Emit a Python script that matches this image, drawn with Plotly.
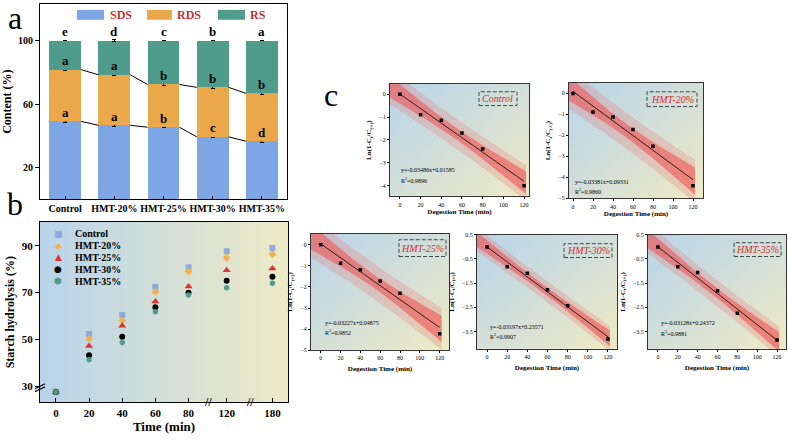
import numpy as np
import plotly.graph_objects as go

W, H = 789, 441
SERIF = 'Liberation Serif'


def px(x):
    return x / W


def py(y):
    return 1 - y / H


#####
#  Data
#####

#  (a) starch fractions, % of total
samples = ['Control', 'HMT-20%', 'HMT-25%', 'HMT-30%', 'HMT-35%']
sds = [49.1, 46.6, 45.4, 39.3, 36.6]
rds = [32.6, 31.8, 26.9, 31.2, 30.1]
rs = [18.3, 21.6, 27.7, 29.5, 33.3]
sds_err = [0.6, 0.7, 0.5, 0.6, 0.9]
rds_err = [0.6, 0.7, 0.5, 0.6, 0.7]
rs_err = [0.3, 0.4, 0.3, 0.3, 0.3]
sds_sig = ['a', 'a', 'b', 'c', 'd']
rds_sig = ['a', 'a', 'b', 'b', 'b']
rs_sig = ['e', 'd', 'c', 'b', 'a']

#  (b) starch hydrolysis curves
times = [0, 20, 40, 60, 80, 120, 180]
hyd_control = [27.7, 52.4, 60.5, 72.4, 80.8, 87.6, 89.0]
hyd_hmt20 = [27.7, 50.3, 58.1, 70.3, 79.0, 84.9, 86.3]
hyd_hmt25 = [27.7, 47.3, 55.9, 66.2, 72.6, 79.5, 80.3]
hyd_hmt30 = [27.7, 43.3, 51.2, 63.8, 70.0, 75.1, 76.8]
hyd_hmt35 = [27.7, 41.4, 48.8, 61.9, 69.0, 72.1, 74.0]

#  (c) first-order kinetics, Ln(1-Ct/Cinf)
dig_time = [0, 20, 40, 60, 80, 120]
ln_control = [0.0, -0.89, -1.14, -1.69, -2.39, -4.01]
ln_hmt20 = [0.0, -0.89, -1.13, -1.72, -2.52, -4.40]
ln_hmt25 = [0.0, -0.88, -1.18, -1.72, -2.30, -4.22]
ln_hmt30 = [0.0, -0.82, -1.09, -1.77, -2.43, -3.81]
ln_hmt35 = [0.0, -0.82, -1.06, -1.81, -2.74, -3.85]
fit_eq = ['y=-0.03486x+0.01585', 'y=-0.03381x+0.09331', 'y=-0.03227x+0.04875',
          'y=-0.03197x+0.23571', 'y=-0.03128x+0.24372']
fit_r2 = ['0.9896', '0.9860', '0.9852', '0.9907', '0.9881']

#####
#  Styling
#####

C_SDS, C_RDS, C_RS = '#7ea5e4', '#eaa84a', '#4f9b8c'
LEG_RED = '#c0322f'
BG_SCALE = [[0, '#b8d4ea'], [1, '#eeeac6']]
series_style = [
    ('Control', hyd_control, 'square', '#8eaadc', '■'),
    ('HMT-20%', hyd_hmt20, 'diamond', '#f2b04e', '◆'),
    ('HMT-25%', hyd_hmt25, 'triangle-up', '#e0312f', '▲'),
    ('HMT-30%', hyd_hmt30, 'circle', '#000000', '●'),
    ('HMT-35%', hyd_hmt35, 'hexagon', '#4f9b8f', '⬢'),
]
#  broken time axis: where each time sits on the drawn axis
BREAK_POS = {0: 0, 20: 1, 40: 2, 60: 3, 80: 4, 120: 5.15, 180: 6.53}

fig = go.Figure()
annotations = []
shapes = []


def axis_style(**kw):
    base = dict(showline=True, mirror=True, linecolor='black', linewidth=1.2,
                showgrid=False, zeroline=False, ticks='outside', ticklen=4,
                tickcolor='black', tickfont=dict(family=SERIF, size=10, color='black'))
    base.update(kw)
    return base


#####
#  Panel a
#####

w_bar = 0.645
pos_a = list(range(len(samples)))
for vals, err, col in [(sds, sds_err, C_SDS), (rds, rds_err, C_RDS), (rs, rs_err, C_RS)]:
    fig.add_trace(go.Bar(x=pos_a, y=vals, width=w_bar, marker=dict(color=col, line_width=0),
                         error_y=dict(type='data', array=err, color='black', thickness=1, width=2),
                         xaxis='x', yaxis='y', showlegend=False, hoverinfo='skip'))

top_sds = sds
top_rds = [a + b for a, b in zip(sds, rds)]
top_rs = [a + b + c for a, b, c in zip(sds, rds, rs)]
for tops in [top_sds, top_rds]:
    xs, ys = [], []
    for i in range(len(tops) - 1):
        xs += [i + w_bar / 2, i + 1 - w_bar / 2, None]
        ys += [tops[i], tops[i + 1], None]
    fig.add_trace(go.Scatter(x=xs, y=ys, mode='lines', line=dict(color='black', width=1),
                             xaxis='x', yaxis='y', showlegend=False, hoverinfo='skip'))

for tops, sig in [(top_sds, sds_sig), (top_rds, rds_sig), (top_rs, rs_sig)]:
    for i, s in enumerate(sig):
        annotations.append(dict(x=i, y=tops[i], xref='x', yref='y', text='<b>%s</b>' % s,
                                showarrow=False, yanchor='middle', yshift=9,
                                font=dict(family=SERIF, size=13, color='black')))

#  legend of panel a
for name, col, x0, x1, xt in [('SDS', C_SDS, 77, 104, 108), ('RDS', C_RDS, 147, 172, 175),
                              ('RS', C_RS, 218, 245, 248)]:
    shapes.append(dict(type='rect', xref='paper', yref='paper', x0=px(x0), x1=px(x1),
                       y0=py(17), y1=py(7), fillcolor=col, line_width=0))
    annotations.append(dict(x=px(xt), y=py(12), xref='paper', yref='paper', text='<b>%s</b>' % name,
                            showarrow=False, xanchor='left', yanchor='middle',
                            font=dict(family=SERIF, size=12, color=LEG_RED)))

#####
#  Panel b
#####

fig.add_trace(go.Heatmap(x=[-0.48, 7.0], y=[23.2, 100.1], z=[[0, 1], [0, 1]], zsmooth='best',
                         colorscale=BG_SCALE, showscale=False, hoverinfo='skip',
                         xaxis='x2', yaxis='y2'))
for name, vals, sym, col, glyph in series_style:
    fig.add_trace(go.Scatter(x=[BREAK_POS[t] for t in times], y=vals, mode='markers', name=name,
                             marker=dict(symbol=sym, color=col, size=6 if sym != 'triangle-up' else 7),
                             xaxis='x2', yaxis='y2', showlegend=False))

for k, (name, vals, sym, col, glyph) in enumerate(series_style):
    yy = 234 + 12 * k
    annotations.append(dict(x=px(58), y=py(yy), xref='paper', yref='paper', text=glyph,
                            showarrow=False, xanchor='center', yanchor='middle',
                            font=dict(family='DejaVu Sans', size=9, color=col)))
    annotations.append(dict(x=px(73), y=py(yy), xref='paper', yref='paper', text='<b>%s</b>' % name,
                            showarrow=False, xanchor='left', yanchor='middle',
                            font=dict(family=SERIF, size=10, color='black')))

#  axis break marks
for xb in [(BREAK_POS[80] + BREAK_POS[120]) / 2, (BREAK_POS[120] + BREAK_POS[180]) / 2]:
    annotations.append(dict(x=xb, y=py(404), xref='x2', yref='paper', text='<b>//</b>',
                            showarrow=False, xanchor='center', yanchor='middle',
                            font=dict(family=SERIF, size=12, color='black')))
for dy in [0, 3]:
    shapes.append(dict(type='line', xref='paper', yref='paper', x0=px(35), x1=px(45),
                       y0=py(391 + dy), y1=py(386 + dy), line=dict(color='black', width=1.2)))

#####
#  Panel c
#####

c_data = [ln_control, ln_hmt20, ln_hmt25, ln_hmt30, ln_hmt35]
#  plot box (px), axis ranges, y ticks, label box (px), equation anchor (px)
c_layout = [
    dict(xd=(390, 529), yd=(82, 196), xr=(-9.6, 124.8), yr=(-4.47, 0.46), yt=[0, -1, -2, -3, -4],
         box=(479, 517, 90, 104), eq=(399, 169, 179), so=2),
    dict(xd=(569, 703), yd=(81, 198), xr=(-4.0, 130.0), yr=(-5.0, 0.5), yt=[0, -1, -2, -3, -4, -5],
         box=(647, 697, 90, 105), eq=(573, 181, 191), so=2),
    dict(xd=(311, 449), yd=(234, 352), xr=(-9.8, 129.4), yr=(-5.0, 0.52), yt=[0, -1, -2, -3, -4, -5],
         box=(399, 446, 240, 257), eq=(323, 324, 334), so=5),
    dict(xd=(477, 617), yd=(235, 351), xr=(-10, 129), yr=(-4.23, 0.5), yt=[0.5, -0.5, -1.5, -2.5, -3.5],
         box=(564, 612, 244, 258), eq=(488, 328, 338), so=5),
    dict(xd=(648, 786), yd=(235, 351), xr=(-10, 129), yr=(-4.23, 0.5), yt=[0.5, -0.5, -1.5, -2.5, -3.5],
         box=(734, 781, 243, 257), eq=(659, 324, 335), so=5),
]

T95 = 2.776  # t(0.975, df=4)
x_arr = np.array(dig_time, dtype=float)
n = len(x_arr)
for k, (yvals, cl) in enumerate(zip(c_data, c_layout)):
    ax = str(k + 3)
    xa, ya = 'x' + ax, 'y' + ax
    y_arr = np.array(yvals)
    slope, icpt = np.polyfit(x_arr, y_arr, 1)
    resid = y_arr - (slope * x_arr + icpt)
    s = np.sqrt(np.sum(resid ** 2) / (n - 2))
    sxx = np.sum((x_arr - x_arr.mean()) ** 2)
    xb = np.linspace(cl['xr'][0] - 2, 122, 80)
    yb = slope * xb + icpt
    ci = T95 * s * np.sqrt(1 / n + (xb - x_arr.mean()) ** 2 / sxx)
    pi = T95 * s * np.sqrt(1 + 1 / n + (xb - x_arr.mean()) ** 2 / sxx)

    fig.add_trace(go.Heatmap(x=list(cl['xr']), y=list(cl['yr']), z=[[0.5, 1], [0, 0.5]], zsmooth='best',
                             colorscale=BG_SCALE, showscale=False, hoverinfo='skip', xaxis=xa, yaxis=ya))
    for half, col in [(pi, 'rgba(232,120,120,0.28)'), (ci, 'rgba(238,88,88,0.62)')]:
        fig.add_trace(go.Scatter(x=xb, y=yb + half, mode='lines', line=dict(width=0),
                                 xaxis=xa, yaxis=ya, showlegend=False, hoverinfo='skip'))
        fig.add_trace(go.Scatter(x=xb, y=yb - half, mode='lines', line=dict(width=0), fill='tonexty',
                                 fillcolor=col, xaxis=xa, yaxis=ya, showlegend=False, hoverinfo='skip'))
    xl = np.array([0, 120.0])
    fig.add_trace(go.Scatter(x=xl, y=slope * xl + icpt, mode='lines', line=dict(color='black', width=0.8),
                             xaxis=xa, yaxis=ya, showlegend=False, hoverinfo='skip'))
    fig.add_trace(go.Scatter(x=dig_time, y=yvals, mode='markers', marker=dict(symbol='square', size=3.5, color='black'),
                             xaxis=xa, yaxis=ya, showlegend=False))

    tf = dict(family=SERIF, size=6, color='black')
    fig.update_layout(**{
        'xaxis' + ax: axis_style(domain=[px(cl['xd'][0]), px(cl['xd'][1])], range=list(cl['xr']), anchor=ya,
                                 tickvals=[0, 20, 40, 60, 80, 100, 120], ticklen=2, linewidth=1, linecolor='#333',
                                 tickfont=tf,
                                 title=dict(text='<b>Degestion Time (min)</b>', standoff=cl['so'],
                                            font=dict(family=SERIF, size=7, color='black'))),
        'yaxis' + ax: axis_style(domain=[py(cl['yd'][1]), py(cl['yd'][0])], range=list(cl['yr']), anchor=xa,
                                 tickvals=cl['yt'], ticklen=2, linewidth=1, linecolor='#333', tickfont=tf,
                                 title=dict(text='<b>Ln(1-C<sub>t</sub>/C<sub>(∞)</sub>)</b>', standoff=6,
                                            font=dict(family=SERIF, size=7, color='black'))),
    })
    bx0, bx1, by0, by1 = cl['box']
    shapes.append(dict(type='rect', xref='paper', yref='paper', x0=px(bx0), x1=px(bx1), y0=py(by1), y1=py(by0),
                       line=dict(color='#3d4a4a', width=1, dash='4px,2px'), fillcolor='rgba(0,0,0,0)'))
    annotations.append(dict(x=px((bx0 + bx1) / 2), y=py((by0 + by1) / 2), xref='paper', yref='paper',
                            text='<i>%s</i>' % samples[k], showarrow=False, xanchor='center', yanchor='middle',
                            font=dict(family=SERIF, size=10, color='#d03030')))
    ex, ey1, ey2 = cl['eq']
    for txt, ey in [(fit_eq[k], ey1), ('R<sup>2</sup>=' + fit_r2[k], ey2)]:
        annotations.append(dict(x=px(ex), y=py(ey), xref='paper', yref='paper', text=txt, showarrow=False,
                                xanchor='left', yanchor='middle', font=dict(family=SERIF, size=6, color='black')))

#  panel letters
for letter, x, y in [('a', 15, 15), ('b', 15, 204), ('c', 331, 93)]:
    annotations.append(dict(x=px(x), y=py(y), xref='paper', yref='paper', text=letter, showarrow=False,
                            xanchor='center', yanchor='middle', font=dict(family=SERIF, size=32, color='black')))

fig.update_layout(
    width=W, height=H, autosize=False,
    margin=dict(l=0, r=0, t=0, b=0),
    paper_bgcolor='white', plot_bgcolor='white',
    barmode='stack', showlegend=False,
    xaxis=axis_style(domain=[px(40), px(287)], range=[-0.51, 4.51], anchor='y',
                     tickvals=pos_a, ticktext=['<b>%s</b>' % s for s in samples], ticks='inside', ticklen=3),
    yaxis=axis_style(domain=[py(199), py(1)], range=[0, 123], anchor='x', tickvals=[20, 60, 100],
                     ticktext=['<b>%d</b>' % v for v in [20, 60, 100]],
                     title=dict(text='<b>Content (%)</b>', standoff=6, font=dict(family=SERIF, size=12, color='black'))),
    xaxis2=axis_style(domain=[px(40), px(288)], range=[-0.48, 7.0], anchor='y2',
                      tickvals=[BREAK_POS[t] for t in times], ticktext=['<b>%d</b>' % t for t in times],
                      ticks='inside', ticklen=4, tickfont=dict(family=SERIF, size=11, color='black'),
                      title=dict(text='<b>Time (min)</b>', standoff=2, font=dict(family=SERIF, size=13, color='black'))),
    yaxis2=axis_style(domain=[py(405), py(222)], range=[23.2, 100.1], anchor='x2', tickvals=[30, 50, 70, 90],
                      ticktext=['<b>%d</b>' % v for v in [30, 50, 70, 90]],
                      tickfont=dict(family=SERIF, size=11, color='black'),
                      title=dict(text='<b>Starch hydrolysis (%)</b>', standoff=4,
                                 font=dict(family=SERIF, size=12, color='black'))),
    annotations=annotations,
    shapes=shapes,
)

#  drop the page's default body margin so the figure fills the window
fig.write_html('out.html', config={'displayModeBar': False},
               post_script="document.body.style.margin='0px';")
